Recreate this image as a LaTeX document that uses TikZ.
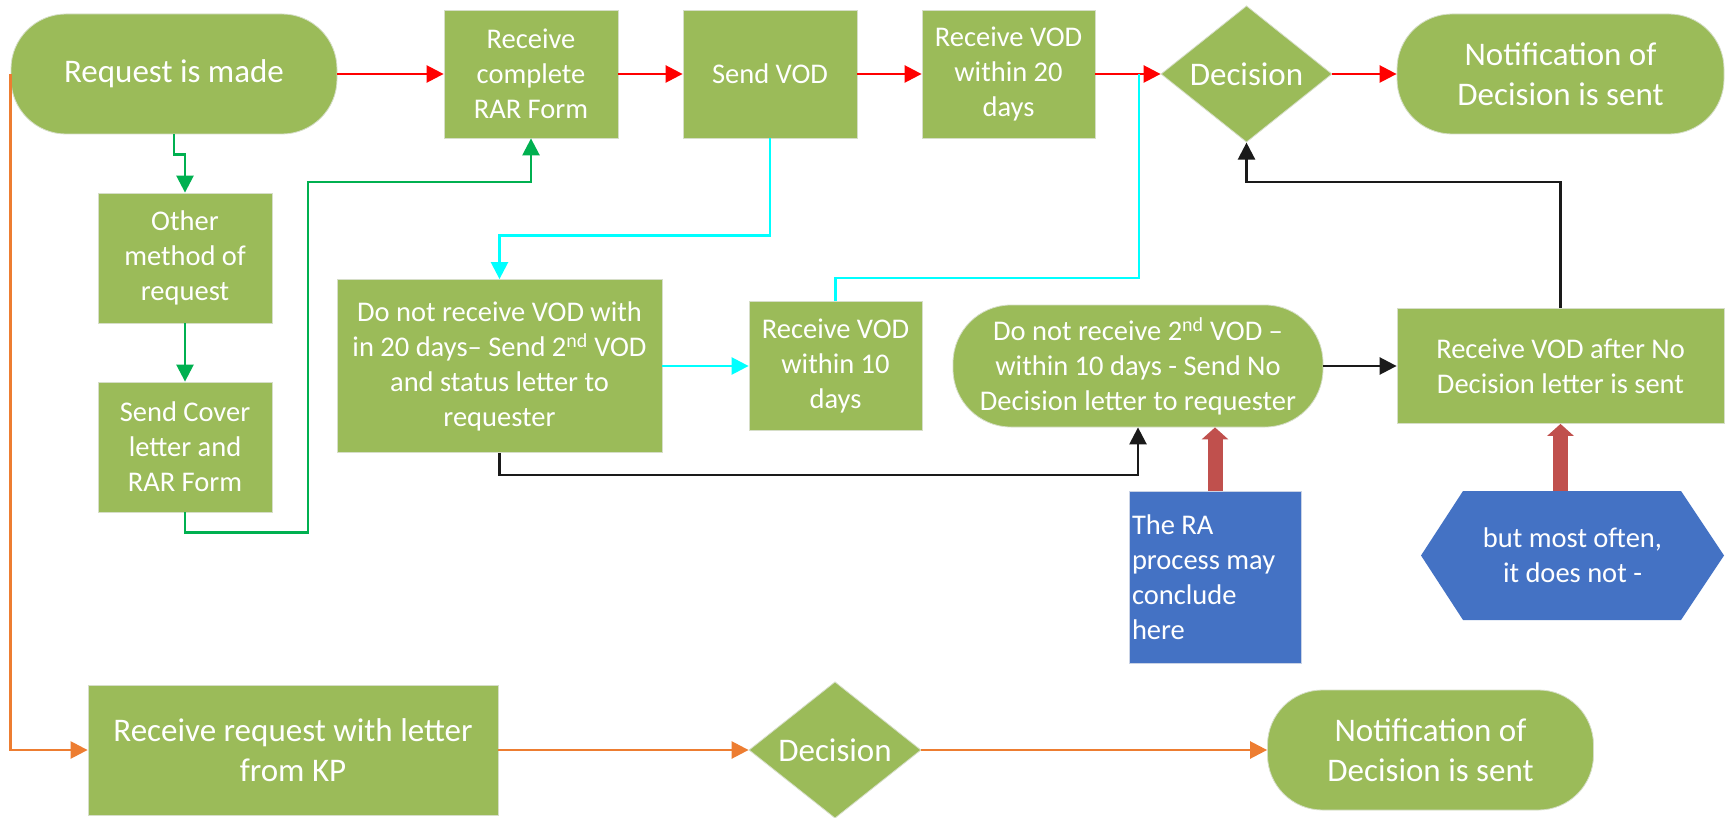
\documentclass[tikz,border=0pt]{standalone}
\usepackage{fontspec}
\setmainfont{Carlito}
\usetikzlibrary{shapes.geometric,arrows.meta}

\definecolor{gfill}{HTML}{9BBB59}
\definecolor{gedge}{HTML}{D6DEC8}
\definecolor{bfill}{HTML}{4472C4}
\definecolor{bedge}{HTML}{C9D3E6}
\definecolor{lnred}{HTML}{FF0000}
\definecolor{lncyan}{HTML}{00FFFF}
\definecolor{lngreen}{HTML}{00B050}
\definecolor{lnorange}{HTML}{ED7D31}
\definecolor{lnblack}{HTML}{1A1A1A}
\definecolor{blockred}{HTML}{C0504D}

\newcommand\bigtxt{\fontsize{33}{40}\selectfont}
\newcommand\smltxt{\fontsize{28.5}{35}\selectfont}

\tikzset{
  shp/.style={fill=gfill, draw=gedge, line width=0.8pt, text=white, align=center, inner sep=2pt},
  sqbox/.style={shp, rectangle},
  pill/.style={shp, rectangle, rounded corners=55pt},
  dmd/.style={shp, diamond, inner sep=0pt},
  bluebox/.style={fill=bfill, draw=bedge, line width=0.8pt, text=white},
  big/.style={font=\bigtxt},
  sml/.style={font=\smltxt},
  sz/.style 2 args={minimum width=#1, minimum height=#2},
  con/.style={line width=2.5pt, -{Triangle[length=17pt,width=17pt]}},
  plain/.style={line width=2.5pt},
  blockarrow/.style={blockred, line width=15pt, -{Triangle[length=12pt,width=26pt]}},
}

\begin{document}
\begin{tikzpicture}[x=1pt,y=-1pt]
\useasboundingbox[fill=white] (0,0) rectangle (1729,818);

% ---- main row ----
\node[pill, big, sz={326pt}{120pt}] (req) at (174,74) {Request is made};
\node[sqbox, sml, sz={174pt}{128pt}] (rar) at (531,74) {Receive\\complete\\RAR Form};
\node[sqbox, sml, sz={174pt}{128pt}] (svod) at (770,74) {Send VOD};
\node[sqbox, sml, sz={173pt}{128pt}] (rv20) at (1008.5,74) {Receive VOD\\within 20\\days};
\node[dmd, big, sz={171pt}{130pt}] (dec) at (1246.5,74) {Decision};
\node[pill, big, sz={327pt}{120pt}] (notif) at (1560.5,74) {Notification of\\Decision is sent};

% ---- other method branch ----
\node[sqbox, sml, sz={174pt}{130pt}] (other) at (185,258) {Other\\method of\\request};
\node[sqbox, sml, sz={174pt}{130pt}] (cover) at (185,447) {Send Cover\\letter and\\RAR Form};

% ---- follow-up row ----
\node[sqbox, sml, sz={325pt}{173pt}] (donot) at (499.5,366) {Do not receive VOD with\\in 20 days-- Send 2\textsuperscript{nd} VOD\\and status letter to\\requester};
\node[sqbox, sml, sz={173pt}{129pt}] (rv10) at (835.5,366) {Receive VOD\\within 10\\days};
\node[pill, sml, rounded corners=58pt, sz={370pt}{122pt}] (nodec) at (1138,366) {Do not receive 2\textsuperscript{nd} VOD --\\within 10 days - Send No\\Decision letter to requester};
\node[sqbox, sml, sz={327pt}{115pt}] (after) at (1560.5,366) {Receive VOD after No\\Decision letter is sent};

% ---- notes ----
\node[bluebox, sml, rectangle, align=flush left, text width=166pt, inner sep=3pt, sz={172pt}{172pt}] (ra) at (1215,577) {The RA\\process may\\conclude\\here};
\fill[bfill] (1421,555.5) -- (1463,491) -- (1681,491) -- (1724,555.5) -- (1681,620) -- (1463,620) -- cycle;
\node[text=white, sml, align=center] (hex) at (1572.5,555.5) {but most often,\\it does not -};
\coordinate (hexTop) at (1560.5,491);

% ---- KP row ----
\node[sqbox, big, sz={410pt}{130pt}] (kp) at (293,750) {Receive request with letter\\from KP};
\node[dmd, big, sz={172pt}{134pt}] (dec2) at (835,750) {Decision};
\node[pill, big, sz={326pt}{120pt}] (notif2) at (1430.5,750) {Notification of\\Decision is sent};

% ---- connectors ----
\draw[con, lnred] (req.east) -- (rar.west);
\draw[con, lnred] (rar.east) -- (svod.west);
\draw[con, lnred] (svod.east) -- (rv20.west);
\draw[con, lnred] (rv20.east) -- (dec.west);
\draw[con, lnred] (dec.east) -- (notif.west);

\coordinate (gA) at (308,182);
\draw[con, lngreen] (req.south) -- ++(0,20) -| (other.north);
\draw[con, lngreen] (other.south) -- (cover.north);
\draw[con, lngreen] (cover.south) -- ++(0,20) -| (gA) -| (rar.south);

\coordinate (cyEnd) at (1139,74);
\draw[con, lncyan] (svod.south) -- ++(0,97) -| (donot.north);
\draw[con, lncyan] (donot.east) -- (rv10.west);
\draw[plain, lncyan] (rv10.north) -- ++(0,-23) -| (cyEnd);

\draw[con, lnblack] (donot.south) -- ++(0,22) -| (nodec.south);
\draw[con, lnblack] (nodec.east) -- (after.west);
\draw[con, lnblack] (after.north) -- ++(0,-126) -| (dec.south);

\draw[blockarrow] (ra.north) -- (ra.north |- nodec.south);
\draw[blockarrow] (hexTop) -- (after.south);

\draw[con, lnorange] (req.west) |- (kp.west);
\draw[con, lnorange] (kp.east) -- (dec2.west);
\draw[con, lnorange] (dec2.east) -- (notif2.west);
\end{tikzpicture}
\end{document}
